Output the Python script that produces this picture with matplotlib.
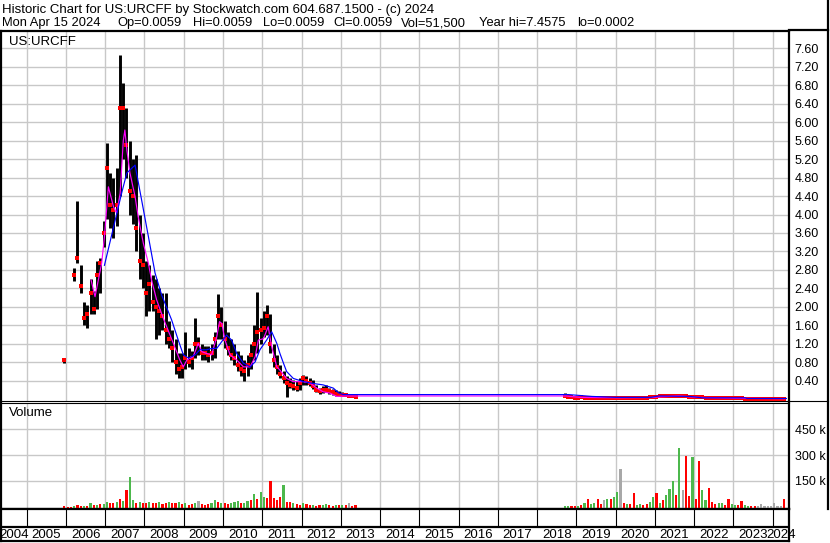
import numpy as np
import matplotlib
matplotlib.use('Agg')
import matplotlib.pyplot as plt
from matplotlib.lines import Line2D

plt.rcParams['font.family'] = ['Liberation Sans', 'DejaVu Sans']

title_1 = 'Historic Chart for US:URCFF by Stockwatch.com 604.687.1500 - (c) 2024'
title_2 = ['Mon Apr 15 2024', 'Op=0.0059', 'Hi=0.0059', 'Lo=0.0059', 'Cl=0.0059',
           'Vol=51,500', 'Year hi=7.4575', 'lo=0.0002']
symbol = 'US:URCFF'
years = list(range(2004, 2025))

nan = np.nan
# monthly high / low / close, Dec 2005 .. May 2013
high_a = [0.90,
          nan, nan, 2.85, 4.30, 2.90, 2.10, 2.05, 2.60, 2.35, 3.00, 3.05, 3.85,
          5.55, 4.90, 4.80, 5.00, 7.46, 6.85, 6.30, 5.60, 5.20, 5.30, 4.00, 3.60,
          3.00, 2.90, 2.70, 2.60, 2.40, 2.30, 2.30, 1.70, 1.50, 1.30, 1.00, 1.00,
          1.45, 1.10, 1.05, 1.75, 1.35, 1.20, 1.15, 1.15, 1.20, 1.45, 2.28, 2.00,
          1.70, 1.45, 1.30, 1.20, 1.05, 0.95, 0.85, 0.95, 1.20, 1.60, 2.33, 1.75,
          1.90, 2.05, 1.85, 1.20, 0.95, 0.75, 0.60, 0.50, 0.45, 0.42, 0.40, 0.45,
          0.52, 0.50, 0.45, 0.42, 0.30, 0.25, 0.28, 0.30, 0.24, 0.22, 0.20, 0.18,
          0.15, 0.14, 0.12, 0.12, 0.10]
low_a = [0.78,
         nan, nan, 2.55, 2.95, 2.30, 1.60, 1.55, 1.85, 1.85, 1.95, 2.30, 3.30,
         3.90, 3.70, 3.50, 3.75, 4.40, 5.20, 4.80, 4.00, 3.80, 3.20, 2.60, 2.40,
         1.80, 1.90, 1.90, 1.30, 1.40, 1.50, 1.20, 1.10, 0.80, 0.55, 0.45, 0.45,
         0.65, 0.70, 0.65, 0.90, 0.95, 0.85, 0.85, 0.80, 0.85, 0.90, 1.30, 1.30,
         1.10, 0.95, 0.85, 0.75, 0.60, 0.50, 0.40, 0.50, 0.65, 0.85, 1.00, 1.20,
         1.35, 1.40, 1.00, 0.70, 0.55, 0.45, 0.35, 0.05, 0.25, 0.20, 0.18, 0.20,
         0.30, 0.30, 0.28, 0.22, 0.15, 0.12, 0.14, 0.15, 0.12, 0.10, 0.08, 0.06,
         0.06, 0.06, 0.05, 0.05, 0.02]
close_a = [0.85,
           nan, nan, 2.70, 3.05, 2.45, 1.75, 1.85, 2.30, 1.95, 2.70, 2.95, 3.60,
           5.00, 4.20, 4.10, 4.20, 6.30, 6.30, 5.50, 4.50, 4.40, 3.70, 3.00, 2.90,
           2.30, 2.50, 2.10, 2.00, 1.90, 1.80, 1.50, 1.30, 1.10, 0.80, 0.65, 0.70,
           0.90, 0.80, 0.90, 1.20, 1.20, 1.00, 1.00, 0.95, 1.00, 1.30, 1.80, 1.60,
           1.30, 1.10, 0.95, 0.90, 0.75, 0.65, 0.60, 0.75, 0.95, 1.20, 1.45, 1.50,
           1.55, 1.80, 1.20, 0.85, 0.70, 0.55, 0.45, 0.35, 0.30, 0.28, 0.25, 0.35,
           0.45, 0.40, 0.35, 0.28, 0.20, 0.18, 0.20, 0.20, 0.17, 0.15, 0.12, 0.10,
           0.10, 0.09, 0.08, 0.08, 0.05]

# monthly high / low / close, Sep 2018 .. Apr 2024
high_b = [0.13, 0.08, 0.06, 0.05,
          0.05, 0.05, 0.06, 0.05, 0.05, 0.04, 0.05, 0.04, 0.05, 0.05, 0.04, 0.05,
          0.05, 0.04, 0.03, 0.04, 0.04, 0.04, 0.04, 0.04, 0.04, 0.04, 0.05, 0.05,
          0.07, 0.08, 0.09, 0.10, 0.11, 0.11, 0.10, 0.12, 0.10, 0.09, 0.08, 0.07,
          0.06, 0.06, 0.05, 0.05, 0.05, 0.04, 0.04, 0.04, 0.04, 0.03, 0.03, 0.03,
          0.03, 0.03, 0.03, 0.02, 0.02, 0.02, 0.02, 0.02, 0.02, 0.015, 0.015, 0.015,
          0.015, 0.012, 0.010, 0.008]
low_b = [0.06, 0.04, 0.03, 0.02,
         0.02, 0.02, 0.02, 0.02, 0.02, 0.02, 0.02, 0.02, 0.02, 0.01, 0.01, 0.02,
         0.02, 0.01, 0.01, 0.01, 0.01, 0.01, 0.01, 0.01, 0.01, 0.01, 0.02, 0.02,
         0.03, 0.04, 0.04, 0.05, 0.05, 0.06, 0.05, 0.05, 0.05, 0.04, 0.03, 0.03,
         0.03, 0.02, 0.02, 0.02, 0.02, 0.02, 0.01, 0.01, 0.01, 0.01, 0.01, 0.01,
         0.01, 0.01, 0.01, 0.005, 0.005, 0.005, 0.005, 0.005, 0.005, 0.004, 0.004, 0.004,
         0.003, 0.003, 0.003, 0.003]
close_b = [0.08, 0.05, 0.04, 0.03,
           0.03, 0.04, 0.03, 0.03, 0.03, 0.03, 0.03, 0.03, 0.03, 0.02, 0.03, 0.03,
           0.03, 0.02, 0.02, 0.02, 0.02, 0.02, 0.02, 0.02, 0.02, 0.02, 0.04, 0.04,
           0.05, 0.06, 0.07, 0.07, 0.08, 0.08, 0.07, 0.08, 0.07, 0.06, 0.05, 0.05,
           0.04, 0.04, 0.04, 0.03, 0.03, 0.03, 0.03, 0.02, 0.02, 0.02, 0.02, 0.02,
           0.02, 0.02, 0.02, 0.01, 0.01, 0.01, 0.01, 0.01, 0.01, 0.008, 0.008, 0.008,
           0.007, 0.006, 0.006, 0.006]

# moving averages (decimal year, price)
ma_short_t = [2006.64, 2006.74, 2006.91, 2006.98, 2007.08, 2007.21, 2007.29, 2007.38,
              2007.46, 2007.50, 2007.55, 2007.63, 2007.76, 2007.84, 2007.97, 2008.10,
              2008.18, 2008.31, 2008.48, 2008.73, 2008.90, 2008.99, 2009.08, 2009.24,
              2009.37, 2009.46, 2009.58, 2009.71, 2009.84, 2009.91, 2009.97, 2010.05,
              2010.18, 2010.35, 2010.52, 2010.69, 2010.82, 2010.90, 2011.03, 2011.15,
              2011.24, 2011.37, 2011.45, 2011.62, 2011.79, 2012.05, 2012.22, 2012.39,
              2012.55, 2012.73, 2012.90, 2013.11, 2018.75, 2018.84, 2019.09, 2020.10,
              2020.90, 2021.10, 2021.60, 2022.10, 2022.60, 2023.10, 2024.30]
ma_short_v = [2.58, 2.22, 2.95, 3.52, 4.60, 4.17, 4.03, 4.46,
              5.60, 5.83, 5.40, 4.90, 4.39, 3.95, 3.38, 2.94,
              2.58, 2.15, 1.75, 1.22, 0.85, 0.70, 0.85, 0.92,
              1.21, 1.03, 0.99, 0.96, 1.35, 1.68, 1.64, 1.28,
              0.96, 0.85, 0.70, 0.70, 0.92, 1.28, 1.31, 1.57,
              1.14, 0.70, 0.63, 0.45, 0.38, 0.38, 0.35, 0.24,
              0.16, 0.13, 0.06, 0.07, 0.07, 0.06, 0.04, 0.03,
              0.035, 0.05, 0.07, 0.04, 0.03, 0.02, 0.01]
ma_long_t = [2006.98, 2007.42, 2007.55, 2007.76, 2007.93, 2008.10, 2008.27, 2008.44,
             2008.69, 2008.86, 2008.99, 2009.12, 2009.29, 2009.41, 2009.58, 2009.71,
             2009.84, 2009.97, 2010.09, 2010.22, 2010.35, 2010.52, 2010.69, 2010.82,
             2010.94, 2011.11, 2011.24, 2011.37, 2011.45, 2011.54, 2011.62, 2011.79,
             2012.05, 2012.30, 2012.55, 2012.81, 2012.94, 2013.06, 2013.30, 2018.75,
             2018.80, 2019.40, 2020.00, 2020.90, 2021.10, 2021.90, 2022.20, 2023.30,
             2023.35, 2024.35]
ma_long_v = [2.90, 4.47, 4.90, 5.07, 4.30, 3.52, 2.73, 2.25,
             1.72, 1.28, 0.96, 0.89, 0.96, 1.07, 1.07, 1.10,
             1.10, 1.25, 1.39, 1.28, 0.99, 0.78, 0.70, 0.81,
             1.07, 1.28, 1.46, 1.21, 0.99, 0.78, 0.60, 0.45,
             0.38, 0.34, 0.31, 0.24, 0.14, 0.10, 0.10, 0.10,
             0.10, 0.06, 0.04, 0.04, 0.07, 0.06, 0.03, 0.03,
             0.015, 0.015]

# monthly volume (thousands) and colour code: g up, r down, k unchanged
vol_a = [3,
         0, 0, 8, 10, 6, 5, 6, 20, 10, 12, 15, 18,
         30, 22, 20, 28, 45, 35, 100, 173, 40, 25, 30, 22,
         25, 30, 20, 25, 28, 18, 22, 30, 20, 25, 30, 15,
         20, 12, 15, 25, 34, 15, 12, 18, 20, 41, 30, 25,
         20, 15, 25, 30, 36, 20, 25, 35, 40, 76, 45, 88,
         60, 50, 148, 50, 40, 55, 129, 30, 30, 20, 15, 12,
         20, 15, 12, 10, 8, 12, 10, 15, 10, 8, 12, 10,
         12, 10, 20, 8, 12]
vcol_a = ('r'
          'rrgrrgrgrgrg'
          'grrgrgrggrgr'
          'rgrrgrrgrrgr'
          'grrgkrrrggrg'
          'rrgggrggrgrg'
          'grrrrrgrrgrr'
          'grrgrrggrrgr'
          'grkrr')
vol_b = [5, 8, 6, 8,
         6, 10, 24, 45, 18, 20, 45, 15, 40, 45, 45, 58,
         87, 221, 20, 15, 15, 78, 12, 15, 10, 15, 30, 60,
         78, 25, 40, 68, 106, 148, 68, 341, 97, 297, 63, 291,
         45, 268, 97, 40, 112, 31, 15, 20, 25, 12, 45, 15,
         10, 10, 37, 12, 8, 8, 5, 5, 17, 5, 5, 8,
         22, 5, 5, 45]
vcol_b = ('ggrr'
          'grgrggrrkgrg'
          'gkrgrrggrrgg'
          'rgrgggrgkrrg'
          'rrggrrrggrrg'
          'grrggrrkkkkk'
          'kkkr')

W, H = 830, 543
up, down, flat = '#4cb84c', '#ff0000', '#a8a8a8'
colour_of = {'g': up, 'r': down, 'k': flat}
grid_c = '#c8c8c8'
header_x = [2, 117, 193, 263, 333, 401, 479, 577]


def box(x0, y0, x1, y1):
    return [x0 / W, 1 - y1 / H, (x1 - x0) / W, (y1 - y0) / H]


t_a = 2005 + (11.5 + np.arange(len(high_a))) / 12
t_b = 2018 + (8.5 + np.arange(len(high_b))) / 12
x_lo, x_hi = 2004.345, 2024.417

fig = plt.figure(figsize=(W / 100, H / 100), dpi=100)

# header
fig.text(2 / W, 1 - 9.5 / H, title_1, fontsize=9.5, va='center')
for x, s in zip(header_x, title_2):
    fig.text(x / W, 1 - 23 / H, s, fontsize=9.3, va='center')

# price panel
ax_p = fig.add_axes(box(1, 31, 789, 401))
for t, hi, lo, cl in ((t_a, high_a, low_a, close_a), (t_b, high_b, low_b, close_b)):
    ax_p.vlines(t, lo, hi, color='black', lw=2.1, zorder=3)
    ax_p.plot(t, cl, 's', color='red', ms=2.2, mew=0, zorder=4)
ax_p.plot(ma_short_t, ma_short_v, color='#ff00ff', lw=0.85, zorder=5)
ax_p.plot(ma_long_t, ma_long_v, color='#0000ff', lw=0.85, zorder=6)
ax_p.set_xlim(x_lo, x_hi)
ax_p.set_ylim(-0.039, 7.975)
ax_p.set_yticks(np.arange(0.4, 7.61, 0.4))
ax_p.set_yticklabels(['%.2f' % v for v in np.arange(0.4, 7.61, 0.4)])
ax_p.yaxis.tick_right()
ax_p.set_xticks(years[1:])
ax_p.tick_params(axis='x', length=0, labelbottom=False)
ax_p.tick_params(axis='y', length=0, pad=4, labelsize=9)
ax_p.grid(color=grid_c, lw=1.0, zorder=0)
ax_p.set_axisbelow(True)
for s in ['left', 'right', 'top']:
    ax_p.spines[s].set_linewidth(1.6)
ax_p.spines['bottom'].set_linewidth(0.8)
ax_p.text(8 / 788, 1 - 11 / 370, symbol, transform=ax_p.transAxes,
          fontsize=9.5, va='center', ha='left')

# volume panel
ax_v = fig.add_axes(box(1, 403, 789, 509))
v_lo = -12
for t, v, c in ((t_a, vol_a, vcol_a), (t_b, vol_b, vcol_b)):
    v = np.array(v, dtype=float)
    ax_v.bar(t, v - v_lo, bottom=v_lo, width=0.055,
             color=[colour_of[k] for k in c], zorder=3)
ax_v.set_xlim(x_lo, x_hi)
ax_v.set_ylim(v_lo, 600.6)
ax_v.set_yticks([150, 300, 450])
ax_v.set_yticklabels(['150 k', '300 k', '450 k'])
ax_v.yaxis.tick_right()
ax_v.set_xticks(years[1:])
ax_v.tick_params(axis='x', length=0, labelbottom=False)
ax_v.tick_params(axis='y', length=0, pad=4, labelsize=9)
ax_v.grid(color=grid_c, lw=1.0, zorder=0)
ax_v.set_axisbelow(True)
for s in ['left', 'right', 'bottom']:
    ax_v.spines[s].set_linewidth(1.6)
ax_v.spines['top'].set_linewidth(0.8)
ax_v.text(8 / 788, 1 - 10 / 106, 'Volume', transform=ax_v.transAxes,
          fontsize=9.5, va='center', ha='left')

# year strip
ax_y = fig.add_axes(box(1, 509, 789, 541))
ax_y.set_xlim(x_lo, x_hi)
ax_y.set_ylim(0, 32)
ax_y.axhline(14, color='black', lw=1.6)
ax_y.vlines(years[1:], 14, 32, color='black', lw=0.8)
for y in years:
    a, b = max(y, x_lo), min(y + 1, x_hi)
    ax_y.text((a + b) / 2, 6.5, str(y), ha='center', va='center', fontsize=9.5,
              clip_on=False)
ax_y.set_xticks([])
ax_y.set_yticks([])
for s in ax_y.spines.values():
    s.set_linewidth(1.6)

# outer lines of the label column
fig.add_artist(Line2D([828 / W, 828 / W], [1, 1 - 509 / H], color='black', lw=1.6))
fig.add_artist(Line2D([789 / W, 828 / W], [1 - 30 / H, 1 - 30 / H], color='black', lw=1.6))
fig.add_artist(Line2D([789 / W, 828 / W], [1 - 401 / H, 1 - 401 / H], color='black', lw=0.8))

fig.savefig('out.png', dpi=100)
